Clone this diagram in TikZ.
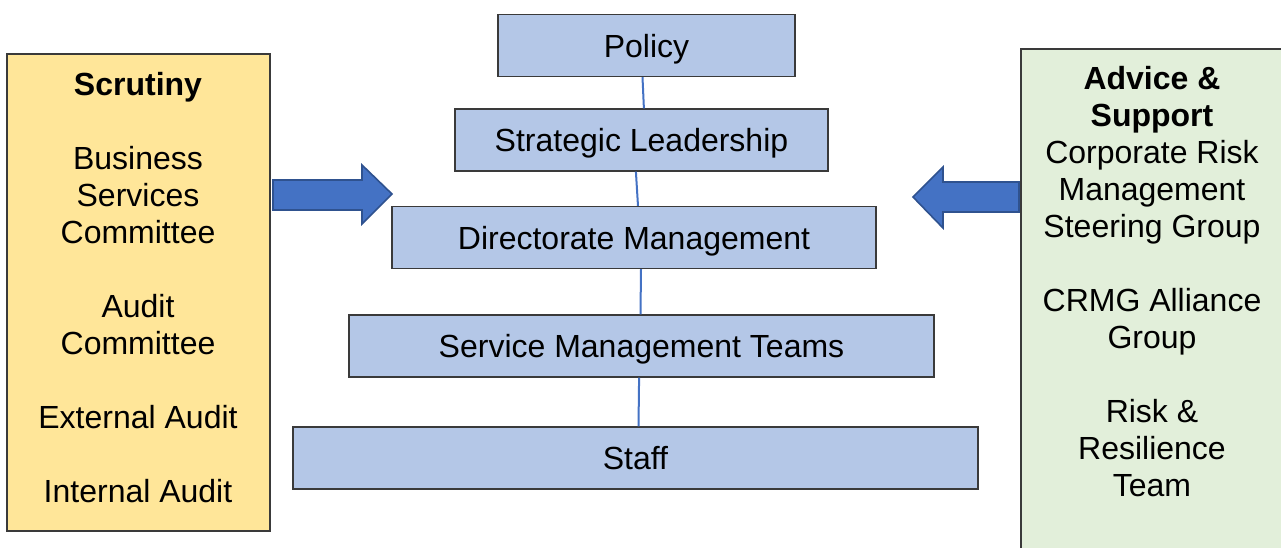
\documentclass[tikz,border=0pt]{standalone}
\usepackage{fontspec}
\setmainfont{Liberation Sans}
\usetikzlibrary{positioning}
\definecolor{levelfill}{HTML}{B4C7E7}
\definecolor{scrutfill}{HTML}{FFE699}
\definecolor{advfill}{HTML}{E2EFDA}
\definecolor{arrowfill}{HTML}{4472C4}
\definecolor{arrowdraw}{HTML}{2F528F}
\definecolor{boxline}{HTML}{3A3A3A}
\tikzset{level box/.style={draw=boxline,line width=0.6pt,fill=levelfill,minimum height=31pt,inner sep=0pt,text height=11.6pt,text depth=0pt,font=\fontsize{16}{18.5}\selectfont}}
\tikzset{side box/.style={draw=boxline,line width=0.6pt}}
\tikzset{side text/.style={align=center,inner sep=0pt,font=\fontsize{16}{18.5}\selectfont}}
\tikzset{block arrow/.style={draw=arrowdraw,line width=0.8pt,fill=arrowfill,line join=miter}}

\begin{document}
\begin{tikzpicture}[x=0.5pt,y=-0.5pt]
                \useasboundingbox (0,0) rectangle (1281,547);
                % levels
                \node[level box,minimum width=148.5pt] (policy) at (646.5,45.5) {Policy};
                \node[level box,minimum width=186.5pt] (lead) at (641.5,140) {Strategic Leadership};
                \node[level box,minimum width=242pt] (dir) at (634,237.5) {Directorate Management};
                \node[level box,minimum width=292.5pt] (smt) at (641.5,346) {Service Management Teams};
                \node[level box,minimum width=342.5pt] (staff) at (635.5,458) {Staff};
                \path[draw=arrowfill,line width=1pt]
                    ([xshift=-2pt]policy.south) -- ([xshift=1.2pt]lead.north)
                    ([xshift=-2.8pt]lead.south) -- ([xshift=2pt]dir.north)
                    ([xshift=3.5pt]dir.south) -- ([xshift=-0.5pt]smt.north)
                    ([xshift=-1.2pt]smt.south) -- ([xshift=1.5pt]staff.north)
                ;
                % side panels
                \draw[side box,fill=scrutfill] (7,54) rectangle (270,531);
                \draw[side box,fill=advfill] (1021,49) rectangle (1300,570);
                \node[side text] (scrut) at (138,287.5) {\textbf{Scrutiny}\\[18.5pt]Business\\Services\\Committee\\[18.5pt]Audit\\Committee\\[18.5pt]External Audit\\[18.5pt]Internal Audit};
                \node[side text] (adv) at (1152,282) {\textbf{Advice \&}\\\textbf{Support}\\Corporate Risk\\Management\\Steering Group\\[18.5pt]CRMG Alliance\\Group\\[18.5pt]Risk \&\\Resilience\\Team};
                % arrows
                \draw[block arrow] (273,180) -- (362,180) -- (362,165) -- (392,194) -- (362,224) -- (362,210) -- (273,210) -- cycle;
                \draw[block arrow] (1019,182) -- (943,182) -- (943,167) -- (913,197) -- (943,228) -- (943,212) -- (1019,212) -- cycle;
            \end{tikzpicture}
\end{document}
